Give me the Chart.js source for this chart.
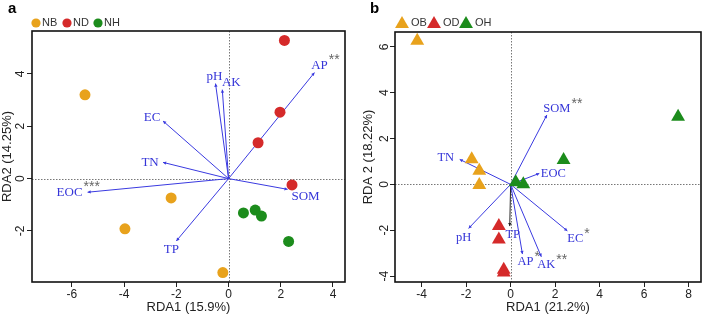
<!DOCTYPE html>
<html>
<head>
<meta charset="utf-8">
<script src="https://cdn.jsdelivr.net/npm/chart.js@4.4.1/dist/chart.umd.min.js"></script>
<style>
  body { margin:0; background:#fff; }
  .panel { position:absolute; top:0; }
</style>
</head>
<body>
<div class="panel" style="left:0;width:355px;height:315px"><canvas id="cA" width="355" height="315"></canvas></div>
<div class="panel" style="left:355px;width:354px;height:315px"><canvas id="cB" width="354" height="315"></canvas></div>
<script>
// ---- panel a (circles) ----
const aGroups = ['NB', 'ND', 'NH'];
const aNB = [[-5.5, 3.2], [-2.2, -0.74], [-3.97, -1.92], [-0.22, -3.59]];
const aND = [[2.14, 5.28], [1.97, 2.54], [1.13, 1.37], [2.43, -0.24]];
const aNH = [[0.57, -1.31], [1.02, -1.2], [1.26, -1.43], [2.3, -2.4]];
const aVars  = ['pH', 'AK', 'AP', 'EC', 'TN', 'EOC', 'SOM', 'TP'];
const aVarX  = [-0.5, -0.24, 3.29, -2.51, -2.51, -5.4, 2.26, -2.0];
const aVarY  = [3.63, 3.4, 4.05, 2.2, 0.62, -0.52, -0.41, -2.38];
const aStars = ['', '', '**', '', '', '***', '', ''];
const aXTicks = [-6, -4, -2, 0, 2, 4];
const aYTicks = [-2, 0, 2, 4];
const aXLim = [-7.53, 4.46];
const aYLim = [-3.95, 5.64];

// ---- panel b (triangles) ----
const bGroups = ['OB', 'OD', 'OH'];
const bOB = [[-4.2, 6.27], [-1.75, 1.1], [-1.41, 0.6], [-1.41, -0.03]];
const bOD = [[-0.53, -1.82], [-0.53, -2.4], [-0.31, -3.72], [-0.31, -3.85]];
const bOH = [[7.53, 2.95], [2.38, 1.06], [0.23, 0.09], [0.57, 0.01]];
const bVars  = ['SOM', 'TN', 'EOC', 'pH', 'TP', 'AP', 'AK', 'EC'];
const bVarX  = [1.63, -2.29, 1.29, -1.89, -0.04, 0.53, 1.38, 2.55];
const bVarY  = [3.03, 1.09, 0.48, -1.92, -1.82, -3.04, -3.16, -2.03];
const bStars = ['**', '', '', '', '', '*', '**', '*'];
const bXTicks = [-4, -2, 0, 2, 4, 6, 8];
const bYTicks = [-4, -2, 0, 2, 4, 6];
const bXLim = [-5.2, 8.56];
const bYLim = [-4.26, 6.65];

const groupColors = ['#E8A21C', '#D52A2A', '#1C8C1C'];
const arrowColor = '#3A3AE0';
const SANS = '"Liberation Sans", Arial, sans-serif';
const SERIF = '"Liberation Serif", "Times New Roman", serif';

// label offsets in pixels from the arrow tip (style only)
const labelOffA = { pH:[-1,-7], AK:[9,-7], AP:[5,-7], EC:[-11,-3], TN:[-13,0], EOC:[-18,0], SOM:[18,7], TP:[-5,9] };
const labelOffB = { SOM:[10,-6], TN:[-14,-2], EOC:[14,0], pH:[-5,9], TP:[3,9], AP:[3,8], AK:[5,8], EC:[8,8] };

function drawArrow(ctx, x0, y0, x1, y1, color){
  const ang = Math.atan2(y1 - y0, x1 - x0), L = 3.5;
  ctx.strokeStyle = color;
  ctx.lineWidth = 1;
  ctx.beginPath(); ctx.moveTo(x0, y0); ctx.lineTo(x1, y1); ctx.stroke();
  ctx.fillStyle = color;
  ctx.beginPath();
  ctx.moveTo(x1, y1);
  ctx.lineTo(x1 - L*Math.cos(ang - 0.5), y1 - L*Math.sin(ang - 0.5));
  ctx.lineTo(x1 - L*Math.cos(ang + 0.5), y1 - L*Math.sin(ang + 0.5));
  ctx.closePath(); ctx.fill();
}

function legendMark(ctx, shape, cx, cy, r, color){
  ctx.fillStyle = color;
  ctx.beginPath();
  if (shape === 'circle') {
    ctx.arc(cx, cy, r, 0, Math.PI * 2);
  } else {
    ctx.moveTo(cx, cy - r);
    ctx.lineTo(cx + r * 0.866, cy + r * 0.5);
    ctx.lineTo(cx - r * 0.866, cy + r * 0.5);
    ctx.closePath();
  }
  ctx.fill();
}

function biplot(cfg){
  return {
    id: 'biplot',
    beforeDatasetsDraw(chart){
      const {ctx, chartArea:a, scales:{x, y}} = chart;
      ctx.save();
      ctx.strokeStyle = '#777'; ctx.lineWidth = 1; ctx.setLineDash([1.5, 1.5]);
      const zx = Math.round(x.getPixelForValue(0)) + 0.5, zy = Math.round(y.getPixelForValue(0)) + 0.5;
      ctx.beginPath(); ctx.moveTo(zx, a.top); ctx.lineTo(zx, a.bottom); ctx.stroke();
      ctx.beginPath(); ctx.moveTo(a.left, zy); ctx.lineTo(a.right, zy); ctx.stroke();
      ctx.setLineDash([]);
      const ox = x.getPixelForValue(0), oy = y.getPixelForValue(0);
      cfg.vars.forEach((v, i) => {
        const col = (cfg.darkVar === v) ? '#222' : arrowColor;
        drawArrow(ctx, ox, oy, x.getPixelForValue(cfg.vx[i]), y.getPixelForValue(cfg.vy[i]), col);
      });
      ctx.restore();
    },
    afterDatasetsDraw(chart){
      const {ctx, scales:{x, y}} = chart;
      ctx.save();
      ctx.textBaseline = 'middle';
      cfg.vars.forEach((v, i) => {
        const off = cfg.off[v];
        const lx = x.getPixelForValue(cfg.vx[i]) + off[0];
        const ly = y.getPixelForValue(cfg.vy[i]) + off[1];
        ctx.font = cfg.labelSize + 'px ' + SERIF;
        ctx.fillStyle = '#3535D8';
        ctx.textAlign = 'center';
        ctx.fillText(v, lx, ly);
        if (cfg.stars[i]) {
          const w = ctx.measureText(v).width;
          ctx.font = '14px ' + SANS;
          ctx.fillStyle = '#666';
          ctx.textAlign = 'left';
          ctx.fillText(cfg.stars[i], lx + w/2 + 1, ly - 5);
        }
      });
      ctx.restore();
    },
    afterDraw(chart){
      const {ctx, chartArea:a} = chart;
      ctx.save();
      ctx.strokeStyle = '#111'; ctx.lineWidth = 1.6;
      ctx.strokeRect(a.left, a.top, a.right - a.left, a.bottom - a.top);
      // panel letter
      ctx.fillStyle = '#000'; ctx.font = 'bold 15px ' + SANS;
      ctx.textAlign = 'left'; ctx.textBaseline = 'alphabetic';
      ctx.fillText(cfg.letter, cfg.letterX, 13);
      // legend
      ctx.font = '11px ' + SANS; ctx.textBaseline = 'middle';
      chart.data.datasets.forEach((ds, i) => {
        const cx = cfg.legX + i * cfg.legStep;
        legendMark(ctx, cfg.shape, cx, cfg.shape === 'circle' ? 23 : 24, cfg.legR, ds.backgroundColor);
        ctx.fillStyle = '#333';
        ctx.fillText(ds.label, cx + cfg.legTextDx, 23);
      });
      ctx.restore();
    }
  };
}

function makePanel(canvas, cfg){
  const fixTicks = arr => s => { s.ticks = arr.map(v => ({value: v})); };
  return new Chart(canvas, {
    type: 'scatter',
    data: {
      datasets: cfg.groups.map((g, i) => ({
        label: g,
        data: cfg.points[i].map(p => ({x: p[0], y: p[1]})),
        backgroundColor: groupColors[i],
        borderColor: groupColors[i],
        borderWidth: 0,
        pointStyle: cfg.shape,
        pointRadius: cfg.r
      }))
    },
    options: {
      responsive: false, animation: false, events: [],
      layout: { padding: { top: cfg.top, right: cfg.right, left: 0, bottom: 0 } },
      plugins: { legend: { display: false }, tooltip: { enabled: false } },
      scales: {
        x: {
          type: 'linear', min: cfg.xlim[0], max: cfg.xlim[1],
          afterBuildTicks: fixTicks(cfg.xticks),
          afterFit: s => { s.height = 33; },
          border: { display: false },
          grid: { drawOnChartArea: false, color: '#222', tickLength: 5 },
          ticks: { font: { family: SANS, size: 12 }, color: '#222', padding: 0, maxRotation: 0 },
          title: { display: true, text: cfg.xtitle, font: { family: SANS, size: 13 }, color: '#222', padding: 0 }
        },
        y: {
          type: 'linear', min: cfg.ylim[0], max: cfg.ylim[1],
          afterBuildTicks: fixTicks(cfg.yticks),
          afterFit: s => { s.width = cfg.yw; },
          border: { display: false },
          grid: { drawOnChartArea: false, color: '#222', tickLength: 5 },
          ticks: { font: { family: SANS, size: 12 }, color: '#222', padding: cfg.ytickPad,
                   minRotation: 90, maxRotation: 90, crossAlign: 'center' },
          title: { display: true, text: cfg.ytitle, font: { family: SANS, size: 13 }, color: '#222',
                   padding: { top: cfg.ytitlePad, bottom: 0 } }
        }
      }
    },
    plugins: [biplot(cfg)]
  });
}

makePanel(document.getElementById('cA'), {
  groups: aGroups, points: [aNB, aND, aNH], shape: 'circle', r: 5.5,
  vars: aVars, vx: aVarX, vy: aVarY, stars: aStars, off: labelOffA, labelSize: 13,
  xticks: aXTicks, yticks: aYTicks, xlim: aXLim, ylim: aYLim,
  xtitle: 'RDA1 (15.9%)', ytitle: 'RDA2 (14.25%)',
  top: 31, right: 10, yw: 32, ytickPad: 1, ytitlePad: 0,
  letter: 'a', letterX: 8, legX: 36, legStep: 31, legR: 4.6, legTextDx: 6
});

makePanel(document.getElementById('cB'), {
  groups: bGroups, points: [bOB, bOD, bOH], shape: 'triangle', r: 8,
  vars: bVars, vx: bVarX, vy: bVarY, stars: bStars, off: labelOffB, labelSize: 12.5, darkVar: 'TP',
  xticks: bXTicks, yticks: bYTicks, xlim: bXLim, ylim: bYLim,
  xtitle: 'RDA1 (21.2%)', ytitle: 'RDA 2 (18.22%)',
  top: 32, right: 1.3, yw: 40, ytickPad: 0, ytitlePad: 6,
  letter: 'b', letterX: 15, legX: 47, legStep: 32, legR: 8, legTextDx: 9
});
</script>
</body>
</html>
